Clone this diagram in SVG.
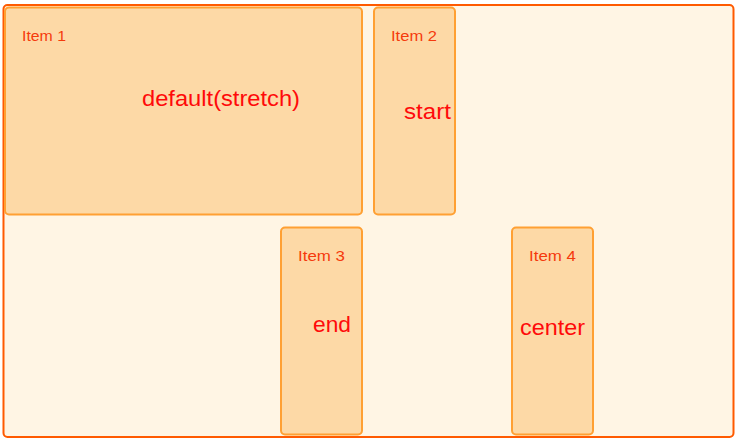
<svg xmlns="http://www.w3.org/2000/svg" width="737" height="443" viewBox="0 0 737 443">
<style>
.item{fill:#FDD9A6;stroke:#FFA033;stroke-width:2}
.lbl{font-family:"Liberation Sans",Arial,sans-serif;font-size:15px;fill:#F53A0C}
.big{font-family:"Liberation Sans",Arial,sans-serif;font-size:22px;fill:#FF0A0A}
</style>
<rect id="container" x="3.5" y="5" width="730" height="432" rx="4" fill="#FFF5E4" stroke="#FF5A00" stroke-width="2"/>
<g id="item1">
<rect class="item" x="5" y="7.5" width="357" height="207" rx="4"/>
<text class="lbl" x="22" y="41" textLength="44" lengthAdjust="spacingAndGlyphs">Item 1</text>
<text class="big" x="142" y="106" textLength="158" lengthAdjust="spacingAndGlyphs">default(stretch)</text>
</g>
<g id="item2">
<rect class="item" x="374" y="7.5" width="81" height="207" rx="4"/>
<text class="lbl" x="391" y="41" textLength="46" lengthAdjust="spacingAndGlyphs">Item 2</text>
<text class="big" x="404" y="119" textLength="47" lengthAdjust="spacingAndGlyphs">start</text>
</g>
<g id="item3">
<rect class="item" x="281" y="227.5" width="81" height="207" rx="4"/>
<text class="lbl" x="298" y="261" textLength="47" lengthAdjust="spacingAndGlyphs">Item 3</text>
<text class="big" x="313" y="332" textLength="38" lengthAdjust="spacingAndGlyphs">end</text>
</g>
<g id="item4">
<rect class="item" x="512" y="227.5" width="81" height="207" rx="4"/>
<text class="lbl" x="529" y="261" textLength="47" lengthAdjust="spacingAndGlyphs">Item 4</text>
<text class="big" x="520" y="335" textLength="65" lengthAdjust="spacingAndGlyphs">center</text>
</g>
<g id="connectors"/>
</svg>
